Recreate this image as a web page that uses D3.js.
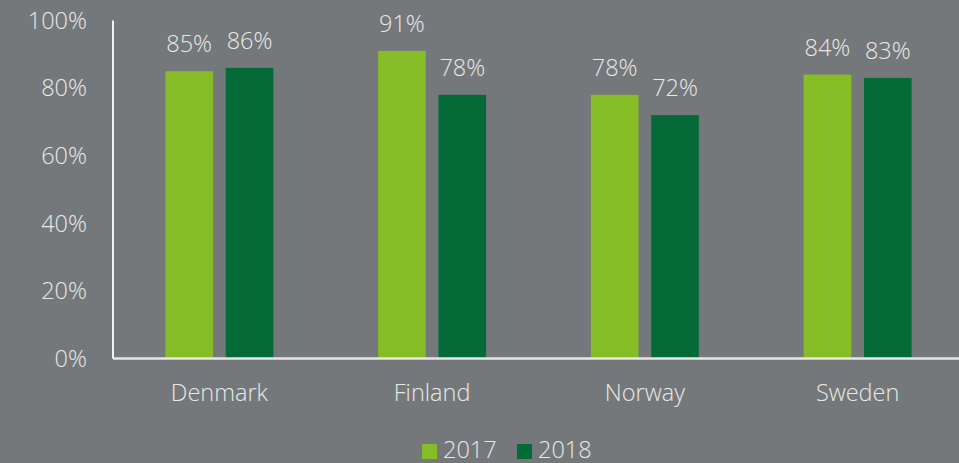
<!DOCTYPE html>
<html>
<head>
<meta charset="utf-8">
<script src="https://cdn.jsdelivr.net/npm/d3@7.9.0/dist/d3.min.js"></script>
<style>
  html, body { margin: 0; padding: 0; background: #75787b; }
  svg { display: block; }
  text { font-family: "Open Sans", sans-serif; font-weight: 300; fill: #e8e8e8; }
</style>
</head>
<body>
<svg id="chart" width="959" height="463"></svg>
<script>
const countries = ["Denmark", "Finland", "Norway", "Sweden"];
const seriesNames = ["2017", "2018"];
const values2017 = [85, 91, 78, 84];
const values2018 = [86, 78, 72, 83];
const yTicks = [0, 20, 40, 60, 80, 100];
const colors = { "2017": "#86bc25", "2018": "#046a38" };

const svg = d3.select("#chart");
const margin = { left: 113, right: -5, top: 20.5, bottom: 104.5 };
const width = 959 - margin.left - margin.right;
const height = 463 - margin.top - margin.bottom;
const fs = "23.5px";

const g = svg.append("g").attr("transform", `translate(${margin.left},${margin.top})`);

const x0 = d3.scaleBand().domain(countries).range([0, width]).padding(0);
const groupW = 108;
const x1 = d3.scaleBand().domain(seriesNames).range([0, groupW]).paddingInner(0.21);
const y = d3.scaleLinear().domain([0, 100]).range([height, 0]);

// y tick labels
g.selectAll(".ytick").data(yTicks).join("text")
  .attr("class", "ytick")
  .attr("x", -26)
  .attr("y", d => y(d))
  .attr("dy", "0.35em")
  .attr("text-anchor", "end")
  .style("font-size", fs)
  .text(d => d + "%");

const rows = countries.map((c, i) => ({ country: c, values: [
  { key: "2017", value: values2017[i] },
  { key: "2018", value: values2018[i] }
]}));

const groups = g.selectAll(".grp").data(rows).join("g")
  .attr("class", "grp")
  .attr("transform", d => `translate(${x0(d.country) + (x0.bandwidth() - groupW) / 2},0)`);

groups.selectAll("rect").data(d => d.values).join("rect")
  .attr("x", d => x1(d.key))
  .attr("y", d => y(d.value))
  .attr("width", x1.bandwidth())
  .attr("height", d => height - y(d.value))
  .attr("fill", d => colors[d.key]);

groups.selectAll(".lbl").data(d => d.values).join("text")
  .attr("class", "lbl")
  .attr("x", d => x1(d.key) + x1.bandwidth() / 2)
  .attr("y", d => y(d.value) - 19)
  .attr("text-anchor", "middle")
  .style("font-size", fs)
  .text(d => d.value + "%");

// axes lines
g.append("line")
  .attr("x1", 0).attr("x2", 0)
  .attr("y1", 0).attr("y2", height)
  .attr("stroke", "#f2f2f2").attr("stroke-width", 2);
g.append("line")
  .attr("x1", 0).attr("x2", width)
  .attr("y1", height).attr("y2", height)
  .attr("stroke", "#e6e6e6").attr("stroke-width", 2.5);

// category labels
g.selectAll(".xlbl").data(countries).join("text")
  .attr("class", "xlbl")
  .attr("x", d => x0(d) + x0.bandwidth() / 2)
  .attr("y", height + 42.5)
  .attr("text-anchor", "middle")
  .style("font-size", fs)
  .text(d => d);

// legend
const legendX = [422, 517];
const legend = svg.selectAll(".leg").data(seriesNames).join("g")
  .attr("class", "leg")
  .attr("transform", (d, i) => `translate(${legendX[i]},444)`);
legend.append("rect")
  .attr("width", 15).attr("height", 15)
  .attr("fill", d => colors[d]);
legend.append("text")
  .attr("x", 21).attr("y", 14)
  .style("font-size", fs)
  .text(d => d);
</script>
</body>
</html>
